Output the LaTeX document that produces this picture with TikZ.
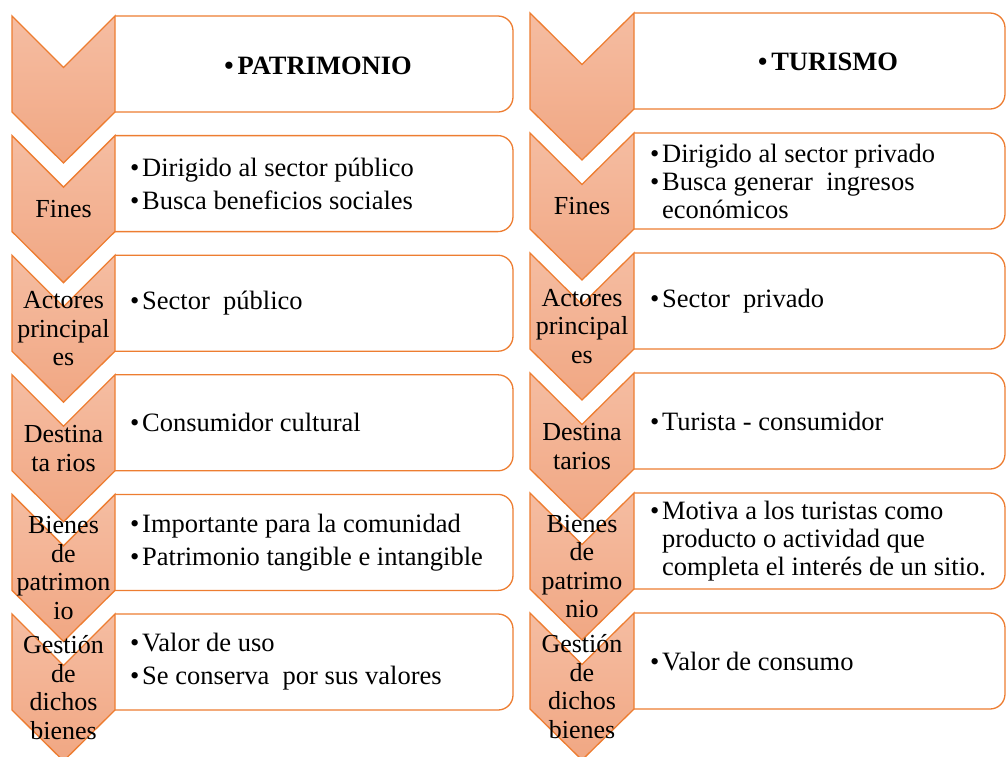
\documentclass[tikz,border=0pt]{standalone}
\usepackage{fontspec}
\setmainfont{Liberation Serif}
\usepackage{tikz}

\definecolor{chevline}{RGB}{237,125,49}
\definecolor{chevtop}{RGB}{245,189,162}
\definecolor{chevbot}{RGB}{241,167,131}

\newcommand{\bul}{\makebox[12pt][l]{\textbullet}}

\begin{document}
\begin{tikzpicture}[x=1pt,y=-1pt,
  chevshape/.style={draw=chevline,line width=1.3pt,top color=chevtop,bottom color=chevbot,line join=miter},
  panel/.style={draw=chevline,line width=1.3pt,rounded corners=15pt},
  chevtext/.style={font=\fontsize{26}{28.5}\selectfont,align=center,inner sep=0pt},
  boxtext/.style={font=\fontsize{26.5}{28}\selectfont,align=left,anchor=west,inner sep=0pt}]
\useasboundingbox (0,0) rectangle (1006,756);

% left column: patrimonio
\foreach \t in {16,135.6,255.2,374.8,494.4,614} {
  \draw[panel] (115,\t) -- (513,\t) -- (513,\t+96) -- (115,\t+96);
  \draw[chevshape] (12,\t) -- (63.5,\t+51.5) -- (115,\t) -- (115,\t+96) -- (63.5,\t+147) -- (12,\t+96) -- cycle;
}
% right column: turismo
\foreach \t in {13,133,253,373,493,613} {
  \draw[panel] (634,\t) -- (1005,\t) -- (1005,\t+96) -- (634,\t+96);
  \draw[chevshape] (530,\t) -- (582,\t+51.5) -- (634,\t) -- (634,\t+96) -- (582,\t+147) -- (530,\t+96) -- cycle;
}

\node[chevtext] (pfines) at (63.5,209.1) {Fines};
\node[chevtext] (pactores) at (63.5,328.7) {Actores\\principal\\es};
\node[chevtext] (pdest) at (63.5,448.3) {Destina\\ta rios};
\node[chevtext] (pbienes) at (63.5,567.9) {Bienes\\de\\patrimon\\io};
\node[chevtext] (pgestion) at (63.5,687.5) {Gestión\\de\\dichos\\bienes};

\node[chevtext] (tfines) at (582,206.5) {Fines};
\node[chevtext] (tactores) at (582,326.5) {Actores\\principal\\es};
\node[chevtext] (tdest) at (582,446.5) {Destina\\tarios};
\node[chevtext] (tbienes) at (582,566.5) {Bienes\\de\\patrimo\\nio};
\node[chevtext] (tgestion) at (582,686.5) {Gestión\\de\\dichos\\bienes};

\node[boxtext,anchor=center] (patri) at (318,66) {\textbf{\textbullet\hspace{4pt}PATRIMONIO}};
\node[boxtext] (pfin) at (130,183.6) {\bul Dirigido al sector público\\[5pt]\bul Busca beneficios sociales};
\node[boxtext] (pact) at (130,303.2) {\bul Sector\ \ público};
\node[boxtext] (pdes) at (130,422.8) {\bul Consumidor cultural};
\node[boxtext] (pbie) at (130,542.4) {\bul Importante para la comunidad\\[5pt]\bul Patrimonio tangible e intangible};
\node[boxtext] (pges) at (130,662) {\bul Valor de uso\\[5pt]\bul Se conserva\ \ por sus valores};

\node[boxtext,anchor=center] (turi) at (828,62) {\textbf{\textbullet\hspace{4pt}TURISMO}};
\node[boxtext] (tfin) at (650,181) {\bul Dirigido al sector privado\\\bul Busca generar\ \ ingresos\\\hspace*{12pt}económicos};
\node[boxtext] (tact) at (650,301) {\bul Sector\ \ privado};
\node[boxtext] (tdes) at (650,421) {\bul Turista - consumidor};
\node[boxtext] (tbie) at (650,541) {\bul Motiva a los turistas como\\\hspace*{12pt}producto o actividad que\\\hspace*{12pt}completa el interés de un sitio.};
\node[boxtext] (tges) at (650,661) {\bul Valor de consumo};
\end{tikzpicture}
\end{document}
